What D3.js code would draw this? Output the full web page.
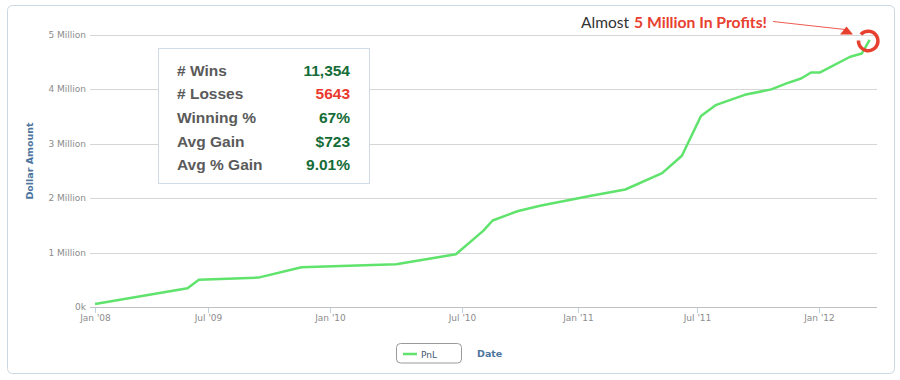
<!DOCTYPE html>
<html>
<head>
<meta charset="utf-8">
<script src="https://cdn.jsdelivr.net/npm/d3@7"></script>
<style>
    body { margin: 0; background: #fff; }
    svg { display: block; }
</style>
</head>
<body>
<svg id="pnlChart" width="900" height="380"></svg>
<script>
// cumulative PnL
let dates = ["2008-01-01","2009-03-24","2009-05-18","2009-09-15","2009-11-19","2010-04-02",
    "2010-06-23","2010-08-04","2010-08-19","2010-09-27","2010-11-02","2011-01-19","2011-03-14",
    "2011-05-09","2011-06-08","2011-07-07","2011-07-29","2011-09-11","2011-10-21","2011-11-13",
    "2011-12-05","2011-12-20","2012-01-02","2012-02-18","2012-03-07","2012-03-19"];
let pnl = [55000, 344000, 500000, 540000, 730000, 785000,
    970000, 1400000, 1590000, 1760000, 1860000, 2040000, 2160000,
    2460000, 2780000, 3510000, 3710000, 3900000, 4000000, 4110000,
    4200000, 4310000, 4310000, 4600000, 4660000, 4910000];

let yTicks = [0, 1000000, 2000000, 3000000, 4000000, 5000000];
let yTickLabels = ["0k", "1 Million", "2 Million", "3 Million", "4 Million", "5 Million"];

let xTickDates = ["2008-01-01","2009-07-01","2010-01-01","2010-07-01","2011-01-01","2011-07-01","2012-01-01"];
let xTickLabels = ["Jan '08", "Jul '09", "Jan '10", "Jul '10", "Jan '11", "Jul '11", "Jan '12"];

let statLabels = ["# Wins", "# Losses", "Winning %", "Avg Gain", "Avg % Gain"];
let statValues = ["11,354", "5643", "67%", "$723", "9.01%"];
let statGood = [true, false, true, true, true];

const parseDate = d3.timeParse("%Y-%m-%d");
const points = dates.map((d, i) => ({date: parseDate(d), value: pnl[i]}));

const svg = d3.select("#pnlChart");
const plotLeft = 90, plotRight = 877, plotTop = 35, plotBottom = 307;
const plotWidth = plotRight - plotLeft;

const axisFont = "'DejaVu Sans', Verdana, sans-serif";
const lineGreen = "#5fe36c";

// outer frame
svg.append("rect")
    .attr("x", 7.5).attr("y", 5.5)
    .attr("width", 887).attr("height", 368)
    .attr("rx", 5)
    .attr("fill", "#fff")
    .attr("stroke", "#c9d7e3");

// ordinal-like time axis (highstock squeezes the sparse early years)
let breakDates = xTickDates.map(parseDate).concat([points[points.length - 1].date]);
let breakFrac = [0.0064, 0.1499, 0.305, 0.4723, 0.620, 0.7713, 0.9263, 0.9907];
const x = d3.scaleTime()
    .domain(breakDates)
    .range(breakFrac.map(f => plotLeft + f * plotWidth));

const y = d3.scaleLinear()
    .domain([0, 5000000])
    .range([plotBottom, plotTop]);

// horizontal grid
svg.append("g")
    .selectAll("line")
    .data(yTicks)
    .join("line")
    .attr("x1", plotLeft)
    .attr("x2", plotRight)
    .attr("y1", d => Math.round(y(d)) + 0.5)
    .attr("y2", d => Math.round(y(d)) + 0.5)
    .attr("stroke", d => d === 0 ? "#c0c0c0" : "#d6d6d6")
    .attr("stroke-width", 1.2);

// y labels
svg.append("g")
    .selectAll("text")
    .data(yTicks)
    .join("text")
    .attr("x", plotLeft - 4)
    .attr("y", d => y(d) + 3)
    .attr("text-anchor", "end")
    .attr("font-family", axisFont)
    .attr("font-size", 9)
    .attr("fill", "#8c8c8c")
    .text((d, i) => yTickLabels[i]);

// x ticks + labels
let xAxisG = svg.append("g");
xTickDates.forEach((d, i) => {
    let tx = Math.round(x(parseDate(d))) + 0.5;
    xAxisG.append("line")
        .attr("x1", tx).attr("x2", tx)
        .attr("y1", plotBottom + 1).attr("y2", plotBottom + 6)
        .attr("stroke", "#c0d0e0");
    xAxisG.append("text")
        .attr("x", tx)
        .attr("y", plotBottom + 14)
        .attr("text-anchor", "middle")
        .attr("font-family", axisFont)
        .attr("font-size", 9)
        .attr("fill", "#8c8c8c")
        .text(xTickLabels[i]);
});

// axis titles
svg.append("text")
    .attr("transform", "translate(33," + 161 + ") rotate(-90)")
    .attr("text-anchor", "middle")
    .attr("font-family", axisFont)
    .attr("font-size", 9.5)
    .attr("font-weight", "bold")
    .attr("fill", "#4d759e")
    .text("Dollar Amount");

svg.append("text")
    .attr("x", 477)
    .attr("y", 357)
    .attr("font-family", axisFont)
    .attr("font-size", 9.5)
    .attr("font-weight", "bold")
    .attr("fill", "#4d759e")
    .text("Date");

// the PnL line
let line = d3.line()
    .x(d => x(d.date))
    .y(d => y(d.value));

svg.append("path")
    .datum(points)
    .attr("d", line)
    .attr("fill", "none")
    .attr("stroke", lineGreen)
    .attr("stroke-width", 2.5)
    .attr("stroke-linejoin", "round");

// stats box
let statsG = svg.append("g");
statsG.append("rect")
    .attr("x", 158.5).attr("y", 48.5)
    .attr("width", 211).attr("height", 135)
    .attr("fill", "#fff")
    .attr("stroke", "#cfdbe6");

statLabels.forEach((lbl, i) => {
    let rowY = 75.5 + i * 23.7;
    statsG.append("text")
        .attr("x", 177)
        .attr("y", rowY)
        .attr("font-family", "'Liberation Sans', Arial, sans-serif")
        .attr("font-size", 15.5)
        .attr("font-weight", "bold")
        .attr("fill", "#5a5a5a")
        .text(lbl);
    statsG.append("text")
        .attr("x", 350)
        .attr("y", rowY)
        .attr("text-anchor", "end")
        .attr("font-family", "'Liberation Sans', Arial, sans-serif")
        .attr("font-size", 15.5)
        .attr("font-weight", "bold")
        .attr("fill", statGood[i] ? "#146c37" : "#ea3a2e")
        .text(statValues[i]);
});

// legend
let legendG = svg.append("g");
legendG.append("rect")
    .attr("x", 396.5).attr("y", 343.5)
    .attr("width", 65).attr("height", 19.5)
    .attr("rx", 4)
    .attr("fill", "#fff")
    .attr("stroke", "#9a9a9a");
legendG.append("line")
    .attr("x1", 403).attr("x2", 417)
    .attr("y1", 354).attr("y2", 354)
    .attr("stroke", lineGreen)
    .attr("stroke-width", 2.5);
legendG.append("text")
    .attr("x", 421)
    .attr("y", 357.5)
    .attr("font-family", axisFont)
    .attr("font-size", 9)
    .attr("fill", "#3e576f")
    .text("PnL");

// annotation on the last point
let last = points[points.length - 1];
let lx = x(last.date), ly = y(last.value);

svg.append("text")
    .attr("x", 581)
    .attr("y", 27.5)
    .attr("font-family", "'Comic Sans MS', Lato, sans-serif")
    .attr("font-size", 15)
    .attr("fill", "#333")
    .attr("textLength", 48)
    .attr("lengthAdjust", "spacingAndGlyphs")
    .text("Almost");
svg.append("text")
    .attr("x", 634)
    .attr("y", 27.5)
    .attr("font-family", "'Comic Sans MS', Lato, sans-serif")
    .attr("font-size", 15)
    .attr("font-weight", "bold")
    .attr("fill", "#e8402f")
    .attr("textLength", 133)
    .attr("lengthAdjust", "spacingAndGlyphs")
    .text("5 Million In Profits!");

// arrow
svg.append("line")
    .attr("x1", 773).attr("y1", 21.5)
    .attr("x2", 845).attr("y2", 29.5)
    .attr("stroke", "#ee5c50")
    .attr("stroke-width", 1.2);
svg.append("path")
    .attr("d", d3.line()([[840, 34.5], [846.5, 26.5], [853, 34.5]]) + "Z")
    .attr("fill", "#e8402f");

// hand-drawn looking circle
svg.append("path")
    .attr("transform", "translate(" + (lx - 1.5) + "," + (ly + 1) + ")")
    .attr("d", d3.arc()
        .innerRadius(8)
        .outerRadius(11.5)
        .startAngle(-0.85)
        .endAngle(4.75)())
    .attr("fill", "#e8402f");
</script>
</body>
</html>
